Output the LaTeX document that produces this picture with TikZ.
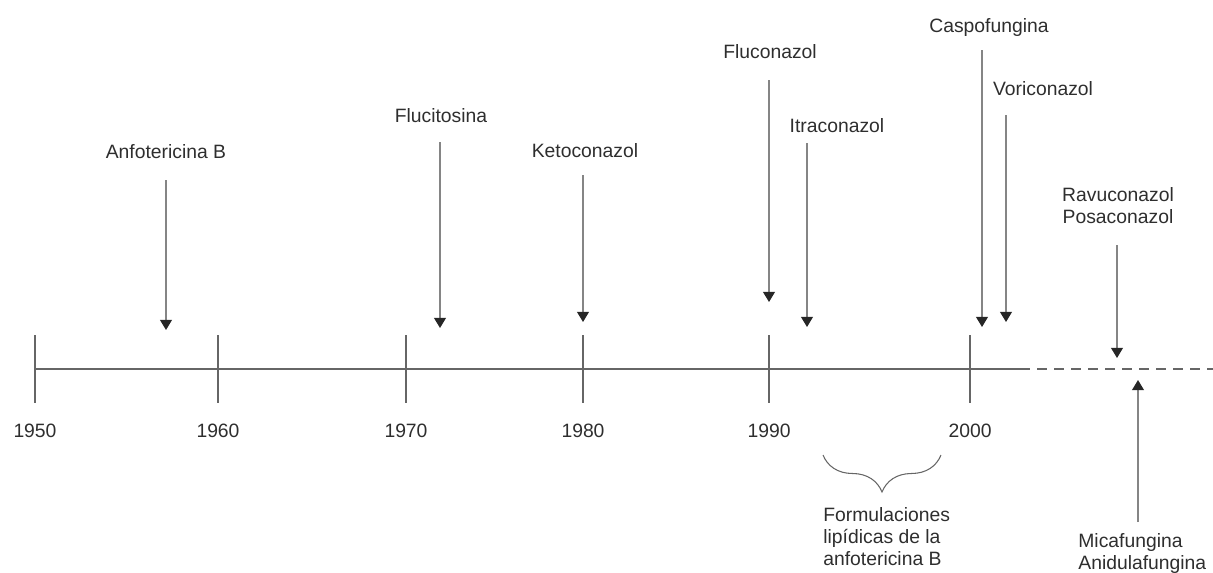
\documentclass[tikz,border=0pt]{standalone}
\usepackage{fontspec}
\setmainfont{Liberation Sans}
\usetikzlibrary{arrows.meta,decorations.pathreplacing}

\definecolor{ink}{HTML}{2E2E2E}
\definecolor{rule}{HTML}{666666}
\definecolor{shaft}{HTML}{858585}

\tikzset{
	drug/.style={inner sep=0pt, text depth=0pt, text=ink, font=\fontsize{11}{12.5}\selectfont},
	year/.style={drug, anchor=base},
	med/.style={draw=shaft, line width=0.75pt, ->},
	axis/.style={draw=rule, line width=1pt},
	tick/.style={draw=rule, line width=0.8pt},
}

\begin{document}
\begin{tikzpicture}[x=0.02cm, y=-0.02cm, >={Triangle[width=6.8pt, length=5.8pt, color=black!85]}]
	\useasboundingbox (0,0) rectangle (1213,572);

	% eje del tiempo
	\coordinate (inicio) at (35,369);
	\coordinate (hoy) at (1020,369);
	\coordinate (futuro) at (1213,369);
	\draw[axis] (inicio) -- (hoy);
	\draw[axis, dash pattern=on 5.7pt off 4pt] (hoy) -- (futuro);
	\foreach \x/\yr in {35/1950, 218/1960, 406/1970, 583/1980, 769/1990, 970/2000} {
		\draw[tick] (\x,335) -- (\x,403);
		\node[year] (y\yr) at (\x,437) {\yr};
	}

	% farmacos
	\node[drug, anchor=base] (anfo) at (166,158) {Anfotericina B};
	\node[drug, anchor=base] (fluci) at (441,122) {Flucitosina};
	\node[drug, anchor=base] (keto) at (585,157) {Ketoconazol};
	\node[drug, anchor=base] (fluco) at (770,58) {Fluconazol};
	\node[drug, anchor=base] (itra) at (837,132) {Itraconazol};
	\node[drug, anchor=base] (caspo) at (989,32) {Caspofungina};
	\node[drug, anchor=base] (vori) at (1043,95) {Voriconazol};
	\node[drug, anchor=south, align=center] (ravu) at (1118,224) {Ravuconazol\\Posaconazol};
	\node[drug, anchor=north west, align=left] (mica) at (1078,533) {Micafungina\\Anidulafungina};
	\node[drug, anchor=north west, align=left] (lipid) at (823,507) {Formulaciones\\lip\'idicas de la\\anfotericina B};

	\coordinate (anfoT) at (166,330);
	\coordinate (fluciT) at (440,328);
	\coordinate (ketoT) at (583,322);
	\coordinate (flucoT) at (769,302);
	\coordinate (itraT) at (807,327);
	\coordinate (caspoT) at (982,327);
	\coordinate (voriT) at (1006,322);
	\coordinate (ravuT) at (1117,358);
	\coordinate (micaT) at (1138,380);

	\draw[med] (anfo.south -| anfoT) ++(0,22) -- (anfoT);
	\draw[med] (fluci.south -| fluciT) ++(0,20) -- (fluciT);
	\draw[med] (keto.south -| ketoT) ++(0,18) -- (ketoT);
	\draw[med] (fluco.south -| flucoT) ++(0,22) -- (flucoT);
	\draw[med] (itra.south -| itraT) ++(0,11) -- (itraT);
	\draw[med] (caspo.south -| caspoT) ++(0,18) -- (caspoT);
	\draw[med] (vori.south -| voriT) ++(0,20) -- (voriT);
	\draw[med] (ravu.south -| ravuT) ++(0,21) -- (ravuT);
	\draw[med] (mica.north -| micaT) ++(0,-11) -- (micaT);

	% llave de las formulaciones lipidicas
	\coordinate (llaveA) at (823,455);
	\coordinate (llaveB) at (941,455);
	\draw[draw=rule, line width=0.6pt, decorate, decoration={brace, mirror, amplitude=0.74cm}] (llaveA) -- (llaveB);
\end{tikzpicture}
\end{document}
